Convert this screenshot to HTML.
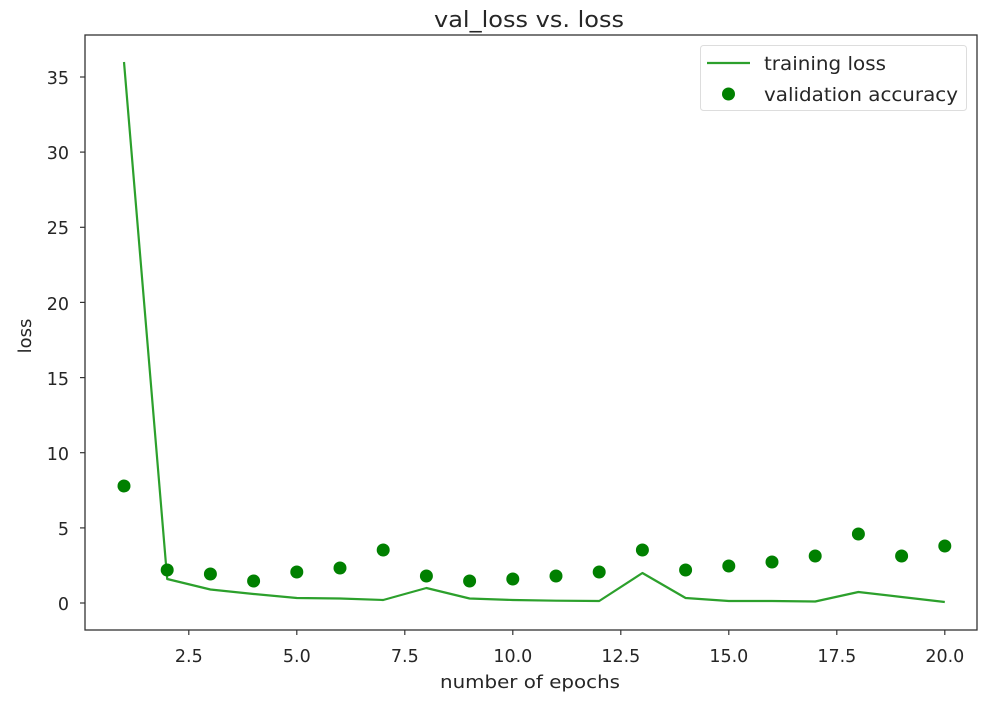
<!DOCTYPE html>
<html><head><style>body{margin:0;background:#fff}svg text{font-family:"DejaVu Sans","Liberation Sans",sans-serif;fill:#262626}</style></head>
<body>
<svg width="1008" height="702" xmlns="http://www.w3.org/2000/svg">
<rect width="1008" height="702" fill="#fff"/>
<text x="529" y="27" font-size="22" text-anchor="middle" textLength="190" lengthAdjust="spacingAndGlyphs">val_loss vs. loss</text>
<g stroke="#333" stroke-width="1.2">
<line x1="85" y1="603" x2="80" y2="603"/><line x1="85" y1="527.9" x2="80" y2="527.9"/><line x1="85" y1="452.7" x2="80" y2="452.7"/><line x1="85" y1="377.6" x2="80" y2="377.6"/><line x1="85" y1="302.4" x2="80" y2="302.4"/><line x1="85" y1="227.3" x2="80" y2="227.3"/><line x1="85" y1="152.1" x2="80" y2="152.1"/><line x1="85" y1="77" x2="80" y2="77"/>
<line x1="188.8" y1="630" x2="188.8" y2="635"/><line x1="296.8" y1="630" x2="296.8" y2="635"/><line x1="404.8" y1="630" x2="404.8" y2="635"/><line x1="512.8" y1="630" x2="512.8" y2="635"/><line x1="620.8" y1="630" x2="620.8" y2="635"/><line x1="728.8" y1="630" x2="728.8" y2="635"/><line x1="836.8" y1="630" x2="836.8" y2="635"/><line x1="944.8" y1="630" x2="944.8" y2="635"/>
</g>
<g font-size="17.5" text-anchor="end">
<text x="69" y="610">0</text><text x="69" y="535">5</text><text x="69" y="460">10</text><text x="69" y="385">15</text><text x="69" y="310">20</text><text x="69" y="234">25</text><text x="69" y="159">30</text><text x="69" y="84">35</text>
</g>
<g font-size="17.5" text-anchor="middle">
<text x="188.8" y="662">2.5</text><text x="296.8" y="662">5.0</text><text x="404.8" y="662">7.5</text><text x="512.8" y="662">10.0</text><text x="620.8" y="662">12.5</text><text x="728.8" y="662">15.0</text><text x="836.8" y="662">17.5</text><text x="944.8" y="662">20.0</text>
</g>
<text x="530" y="688" font-size="18" text-anchor="middle" textLength="180" lengthAdjust="spacingAndGlyphs">number of epochs</text>
<text transform="translate(31,336) rotate(-90)" font-size="18" text-anchor="middle">loss</text>
<polyline fill="none" stroke="#2ca02c" stroke-width="2.2" stroke-linejoin="round" points="124,62 167.2,579 210.4,589.5 253.6,594 296.8,598 340,598.5 383.2,600 426.4,588 469.6,598.5 512.8,600 556,600.7 599.2,601 642.4,573 685.6,598 728.8,601 772,601 815.2,601.5 858.4,592 901.6,597 944.8,602"/>
<g fill="#008000">
<circle cx="124" cy="486" r="6.5"/><circle cx="167.2" cy="570" r="6.5"/><circle cx="210.4" cy="574" r="6.5"/><circle cx="253.6" cy="581" r="6.5"/><circle cx="296.8" cy="572" r="6.5"/><circle cx="340" cy="568" r="6.5"/><circle cx="383.2" cy="550" r="6.5"/><circle cx="426.4" cy="576" r="6.5"/><circle cx="469.6" cy="581" r="6.5"/><circle cx="512.8" cy="579" r="6.5"/><circle cx="556" cy="576" r="6.5"/><circle cx="599.2" cy="572" r="6.5"/><circle cx="642.4" cy="550" r="6.5"/><circle cx="685.6" cy="570" r="6.5"/><circle cx="728.8" cy="566" r="6.5"/><circle cx="772" cy="562" r="6.5"/><circle cx="815.2" cy="556" r="6.5"/><circle cx="858.4" cy="534" r="6.5"/><circle cx="901.6" cy="556" r="6.5"/><circle cx="944.8" cy="546" r="6.5"/>
</g>
<rect x="85" y="35" width="892" height="595" fill="none" stroke="#333" stroke-width="1.3"/>
<rect x="700.5" y="45.5" width="266" height="65" rx="3" fill="#fff" stroke="#ddd" stroke-width="1"/>
<line x1="707" y1="63" x2="750" y2="63" stroke="#2ca02c" stroke-width="2.2"/>
<circle cx="728.5" cy="94" r="6.5" fill="#008000"/>
<text x="764" y="70" font-size="19" textLength="122" lengthAdjust="spacingAndGlyphs">training loss</text>
<text x="764" y="101" font-size="19" textLength="194" lengthAdjust="spacingAndGlyphs">validation accuracy</text>
</svg>
</body></html>
